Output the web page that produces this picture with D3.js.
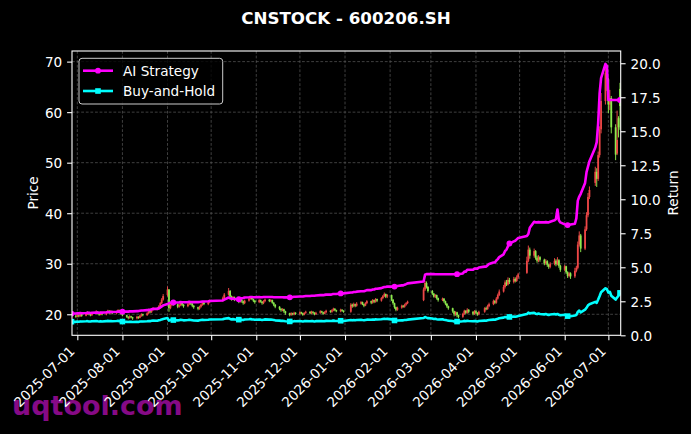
<!DOCTYPE html>
<html><head><meta charset="utf-8">
<script src="https://cdn.jsdelivr.net/npm/d3@7"></script>
<style>body{margin:0;background:#000;} svg{display:block;font-family:'DejaVu Sans',sans-serif;}</style>
</head><body><svg id="c" width="691" height="434"></svg>
<script>
// ---------------- DATA ----------------
const title = "CNSTOCK - 600206.SH";
const startDate = "2025-06-27", endDate = "2026-07-09";
const holidays = ["2025-10-01","2025-10-02","2025-10-03","2025-10-06","2025-10-07","2025-10-08",
  "2026-01-01","2026-01-02","2026-02-16","2026-02-17","2026-02-18","2026-02-19","2026-02-20","2026-02-23",
  "2026-04-06","2026-05-01","2026-05-04","2026-05-05","2026-06-19"];
const open = [19.9,19.7,19.5,19.8,19.6,20.0,19.7,20.1,20.4,20.0,19.8,20.2,20.5,20.2,19.9,20.3,20.0,20.4,20.7,20.3,20.6,20.2,20.5,20.8,20.4,20.1,19.8,19.5,19.3,19.6,19.4,19.2,19.5,19.3,19.7,20.0,19.8,20.2,20.6,20.4,20.9,21.2,21.0,21.6,22.2,22.9,23.8,24.9,21.2,21.9,22.5,22.0,21.5,21.8,22.3,21.9,21.6,22.0,22.4,22.1,21.7,21.4,21.1,21.5,21.9,22.3,22.0,22.4,22.7,23.2,23.9,24.6,23.5,23.0,23.4,22.9,22.5,22.9,22.6,22.2,22.7,23.1,23.4,23.0,22.7,22.4,22.8,22.5,22.2,22.6,22.9,22.6,22.8,22.3,21.9,21.5,21.1,20.8,21.0,20.6,20.2,19.9,20.2,20.0,20.3,20.1,20.4,20.2,19.9,20.3,20.5,20.2,20.5,20.3,20.0,20.3,20.6,20.4,20.1,20.4,20.7,20.5,20.8,21.1,20.8,20.6,20.9,20.7,20.5,21.9,21.6,22.0,21.7,22.1,22.4,22.0,21.7,22.2,22.6,22.3,22.8,22.5,23.0,22.7,23.2,23.6,24.0,23.5,23.8,22.9,22.2,21.4,20.9,21.3,21.7,21.5,21.9,22.2,22.8,24.9,26.2,25.4,24.6,24.1,23.5,23.8,23.2,22.8,23.1,22.6,22.1,21.6,21.2,20.6,20.0,20.4,19.8,19.5,20.1,20.7,20.3,20.9,20.5,20.1,20.6,20.3,20.0,20.5,21.2,21.0,21.6,22.0,22.6,22.3,23.1,23.8,24.5,25.4,26.3,25.9,26.8,26.4,27.0,26.6,27.3,28.2,30.6,32.8,31.6,32.5,31.2,30.6,31.3,30.8,30.1,30.5,29.8,29.4,30.0,30.6,29.9,30.7,29.6,28.8,29.5,28.3,27.6,28.1,27.5,28.6,29.2,33.8,35.6,33.0,36.8,39.6,43.2,46.0,48.2,46.8,51.5,56.6,62.2,67.8,66.5,61.5,62.8,57.0,51.8,58.8,64.6];
const high = [20.1,20.0,20.0,19.9,20.2,20.1,20.3,20.6,20.5,20.1,20.4,20.8,20.6,20.3,20.5,20.4,20.6,20.9,20.8,20.8,20.7,20.7,21.0,20.9,20.5,20.2,19.9,19.6,19.8,19.7,19.5,19.7,19.6,19.9,20.2,20.1,20.4,20.8,20.8,21.1,21.4,21.4,21.8,22.4,23.2,24.0,25.5,25.0,22.2,22.8,22.7,22.1,22.0,22.5,22.4,22.0,22.2,22.6,22.5,22.2,21.8,21.5,21.7,22.1,22.5,22.4,22.6,22.9,23.5,24.2,25.2,24.8,23.7,23.6,23.5,23.0,23.1,23.0,22.7,22.9,23.3,23.6,23.5,23.1,22.8,23.0,22.9,22.6,22.8,23.1,23.0,23.0,22.9,22.4,22.0,21.6,21.2,21.2,21.1,20.7,20.3,20.4,20.3,20.5,20.4,20.6,20.5,20.3,20.4,20.7,20.6,20.7,20.6,20.4,20.5,20.8,20.7,20.5,20.6,20.9,20.8,21.0,21.3,21.2,20.9,21.1,21.0,20.8,22.2,22.1,22.3,22.1,22.4,22.6,22.5,22.1,22.4,22.8,22.7,23.0,22.9,23.2,23.1,23.4,23.8,24.3,24.1,24.0,23.9,23.0,22.3,21.5,21.5,21.9,21.8,22.1,22.4,22.7,25.3,26.6,26.5,25.6,24.8,24.2,24.0,23.9,23.3,23.3,23.2,22.7,22.2,21.7,21.3,20.7,20.6,20.5,19.9,20.3,20.9,20.8,21.2,21.0,20.6,20.8,20.8,20.4,20.7,21.4,21.5,21.9,22.3,22.9,22.8,23.4,24.1,24.9,25.8,26.7,26.8,27.3,27.2,27.4,27.3,27.7,28.2,31.4,33.6,33.2,33.0,32.7,31.6,31.7,31.5,31.0,30.9,30.7,30.0,30.3,31.1,30.9,31.3,30.9,29.8,29.8,29.6,28.5,28.4,28.3,29.2,29.6,34.4,36.4,35.9,37.4,40.2,44.0,45.3,49.2,48.9,52.2,57.2,63.8,69.5,68.9,66.8,64.4,63.2,57.6,60.3,59.2,65.8];
const low = [19.4,19.3,19.4,19.4,19.5,19.5,19.6,19.9,19.8,19.6,19.7,20.0,20.0,19.7,19.8,19.8,19.8,20.2,20.1,20.1,20.0,20.0,20.3,20.2,19.9,19.6,19.3,19.0,19.1,19.2,18.9,19.0,19.1,19.2,19.5,19.6,19.7,20.0,20.2,20.3,20.7,20.8,20.9,21.4,22.0,22.7,23.5,20.5,21.0,21.6,21.7,21.2,21.3,21.6,21.6,21.3,21.4,21.8,21.8,21.4,21.1,20.8,20.9,21.3,21.7,21.8,21.8,22.2,22.5,23.0,23.7,23.2,22.7,22.8,22.6,22.2,22.3,22.3,21.9,22.0,22.5,22.9,22.8,22.4,22.1,22.2,22.3,21.9,22.0,22.4,22.4,22.4,22.1,21.6,21.2,20.8,20.5,20.6,20.3,19.9,19.6,19.7,19.8,19.8,19.9,19.9,20.0,19.7,19.8,20.1,20.0,20.0,20.1,19.8,19.9,20.1,20.2,19.9,20.0,20.2,20.3,20.3,20.6,20.6,20.4,20.4,20.5,20.3,20.3,21.3,21.4,21.4,21.5,21.9,21.8,21.4,21.6,22.0,22.0,22.1,22.2,22.3,22.4,22.5,23.0,23.4,23.2,23.2,22.6,21.9,21.1,20.6,20.7,21.1,21.3,21.3,21.7,22.0,22.6,24.6,25.1,24.3,23.8,23.3,23.2,22.9,22.5,22.6,22.3,21.8,21.3,20.9,20.3,19.6,19.7,19.4,19.2,19.3,19.9,20.0,20.1,20.2,19.8,19.9,20.0,19.7,19.8,20.3,20.8,20.9,21.4,21.8,22.0,22.1,22.9,23.6,24.3,25.1,25.6,25.7,26.0,26.1,26.3,26.4,27.0,28.0,30.3,31.0,31.2,30.8,30.2,30.3,30.4,29.7,29.8,29.4,29.0,29.1,29.7,29.5,29.7,29.2,28.4,28.5,28.0,27.2,27.3,27.0,27.2,28.3,28.9,33.4,32.3,32.7,36.5,39.2,42.8,45.4,45.2,46.4,51.0,55.8,61.5,64.2,59.8,60.4,55.8,50.5,51.5,55.0,56.5];
const close = [19.6,19.5,19.8,19.6,20.0,19.7,20.1,20.4,20.0,19.8,20.2,20.5,20.2,19.9,20.3,20.0,20.4,20.7,20.3,20.6,20.2,20.5,20.8,20.4,20.1,19.8,19.5,19.3,19.6,19.4,19.2,19.5,19.3,19.7,20.0,19.8,20.2,20.6,20.4,20.9,21.2,21.0,21.6,22.2,22.9,23.6,24.9,21.2,21.9,22.5,22.0,21.5,21.8,22.3,21.9,21.6,22.0,22.4,22.1,21.7,21.4,21.1,21.5,21.9,22.3,22.0,22.4,22.7,23.2,23.9,24.6,23.5,23.0,23.4,22.9,22.5,22.9,22.6,22.2,22.7,23.1,23.4,23.0,22.7,22.4,22.8,22.5,22.2,22.6,22.9,22.6,22.8,22.3,21.9,21.5,21.1,20.8,21.0,20.6,20.2,19.9,20.2,20.0,20.3,20.1,20.4,20.2,19.9,20.3,20.5,20.2,20.5,20.3,20.0,20.3,20.6,20.4,20.1,20.4,20.7,20.5,20.8,21.1,20.8,20.6,20.9,20.7,20.5,21.9,21.6,22.0,21.7,22.1,22.4,22.0,21.7,22.2,22.6,22.3,22.8,22.5,23.0,22.7,23.2,23.6,24.0,23.5,23.8,22.9,22.2,21.4,20.9,21.3,21.7,21.5,21.9,22.2,22.5,24.9,26.2,25.4,24.6,24.1,23.5,23.8,23.2,22.8,23.1,22.6,22.1,21.6,21.2,20.6,20.0,20.4,19.8,19.5,20.1,20.7,20.3,20.9,20.5,20.1,20.6,20.3,20.0,20.5,21.2,21.0,21.6,22.0,22.6,22.3,23.1,23.8,24.5,25.4,26.3,25.9,26.8,26.4,27.0,26.6,27.3,27.9,30.6,32.8,31.6,32.5,31.2,30.6,31.3,30.8,30.1,30.5,29.8,29.4,30.0,30.6,29.9,30.7,29.6,28.8,29.5,28.3,27.6,28.1,27.5,28.6,29.2,33.8,35.6,33.0,36.8,39.6,43.2,44.6,48.2,46.8,51.5,56.6,62.2,67.8,66.5,61.5,62.8,57.0,51.6,54.5,57.0,61.2];
const strategy = [1.60,1.60,1.61,1.61,1.63,1.62,1.64,1.66,1.65,1.64,1.66,1.68,1.67,1.66,1.68,1.67,1.69,1.71,1.70,1.72,1.71,1.73,1.75,1.74,1.74,1.74,1.74,1.74,1.76,1.76,1.76,1.78,1.78,1.80,1.82,1.82,1.85,1.88,1.87,1.91,1.94,1.94,1.99,2.04,2.12,2.20,2.30,2.36,2.40,2.42,2.41,2.41,2.42,2.44,2.43,2.43,2.44,2.46,2.45,2.44,2.44,2.44,2.45,2.47,2.49,2.48,2.50,2.52,2.56,2.62,2.78,2.72,2.68,2.70,2.67,2.65,2.70,2.72,2.74,2.78,2.80,2.82,2.81,2.80,2.80,2.81,2.80,2.80,2.81,2.82,2.82,2.82,2.81,2.80,2.80,2.80,2.80,2.80,2.79,2.79,2.79,2.81,2.81,2.83,2.83,2.85,2.85,2.85,2.87,2.89,2.89,2.91,2.91,2.91,2.93,2.95,2.95,2.95,2.97,2.99,2.99,3.01,3.04,3.04,3.04,3.08,3.08,3.08,3.15,3.15,3.18,3.18,3.21,3.24,3.24,3.24,3.28,3.32,3.32,3.37,3.37,3.42,3.42,3.47,3.51,3.55,3.55,3.58,3.58,3.58,3.58,3.58,3.62,3.67,3.67,3.72,3.76,3.82,3.95,4.45,4.50,4.50,4.50,4.50,4.49,4.49,4.49,4.49,4.49,4.49,4.49,4.49,4.49,4.49,4.49,4.49,4.49,4.55,4.68,4.68,4.82,4.82,4.82,4.90,4.90,4.90,4.98,5.05,5.05,5.15,5.25,5.35,5.35,5.50,5.60,5.75,5.95,6.20,6.30,6.55,6.75,6.90,6.95,7.05,7.15,7.30,7.45,7.90,8.35,8.30,8.30,8.32,8.30,8.30,8.32,8.30,8.30,8.35,8.45,8.55,9.25,8.45,8.30,8.15,8.10,8.10,8.12,8.15,8.20,8.60,9.90,10.20,10.40,11.20,12.00,12.40,12.80,13.80,14.20,15.60,17.80,18.90,19.95,19.80,17.30,17.30,17.30,17.30,17.30,17.30,17.30];
const buyHold = [1.00,0.99,1.01,1.00,1.02,1.01,1.03,1.04,1.02,1.01,1.03,1.05,1.03,1.02,1.04,1.02,1.04,1.06,1.04,1.05,1.03,1.05,1.06,1.04,1.03,1.01,0.99,0.98,1.00,0.99,0.98,0.99,0.98,1.01,1.02,1.01,1.03,1.05,1.04,1.07,1.08,1.07,1.10,1.13,1.17,1.20,1.27,1.08,1.12,1.15,1.12,1.10,1.11,1.14,1.12,1.10,1.12,1.14,1.13,1.11,1.09,1.08,1.10,1.12,1.14,1.12,1.14,1.16,1.18,1.22,1.26,1.20,1.17,1.19,1.17,1.15,1.17,1.15,1.13,1.16,1.18,1.19,1.17,1.16,1.14,1.16,1.15,1.13,1.15,1.17,1.15,1.16,1.14,1.12,1.10,1.08,1.06,1.07,1.05,1.03,1.02,1.03,1.02,1.04,1.03,1.04,1.03,1.02,1.04,1.05,1.03,1.05,1.04,1.02,1.04,1.05,1.04,1.03,1.04,1.06,1.05,1.06,1.08,1.06,1.05,1.07,1.06,1.05,1.12,1.10,1.12,1.11,1.13,1.14,1.12,1.11,1.13,1.15,1.14,1.16,1.15,1.17,1.16,1.18,1.20,1.22,1.20,1.21,1.17,1.13,1.09,1.07,1.09,1.11,1.10,1.12,1.13,1.15,1.27,1.34,1.30,1.26,1.23,1.20,1.21,1.18,1.16,1.18,1.15,1.13,1.10,1.08,1.05,1.02,1.04,1.01,0.99,1.03,1.06,1.04,1.07,1.05,1.03,1.05,1.04,1.02,1.05,1.08,1.07,1.10,1.12,1.15,1.14,1.18,1.21,1.25,1.30,1.34,1.32,1.37,1.35,1.38,1.36,1.39,1.42,1.56,1.67,1.61,1.66,1.59,1.56,1.60,1.57,1.54,1.56,1.52,1.50,1.53,1.56,1.53,1.57,1.51,1.47,1.51,1.44,1.41,1.43,1.40,1.46,1.49,1.72,1.82,1.68,1.88,2.02,2.20,2.28,2.46,2.39,2.63,2.89,3.17,3.46,3.39,3.14,3.20,2.91,2.63,2.78,2.91,3.12];
const priceTicks = [20,30,40,50,60,70];
const returnTicks = [0,2.5,5,7.5,10,12.5,15,17.5,20];
const monthTicks = ["2025-07-01","2025-08-01","2025-09-01","2025-10-01","2025-11-01","2025-12-01","2026-01-01","2026-02-01","2026-03-01","2026-04-01","2026-05-01","2026-06-01","2026-07-01"];
const seriesNames = ["AI Strategy","Buy-and-Hold"];
const markEvery = 25;

// ---------------- LAYOUT ----------------
const L = 72, R = 620.7, T = 51, B = 335.3;
const FS = 13.6;
const svg = d3.select("#c");
svg.append("rect").attr("width",691).attr("height",434).attr("fill","#000");

const parse = d3.utcParse("%Y-%m-%d"), fmt = d3.utcFormat("%Y-%m-%d");
const hol = new Set(holidays);
const dates = [];
for (let d = parse(startDate); d <= parse(endDate); d = d3.utcDay.offset(d,1)) {
  const wd = d.getUTCDay();
  if (wd === 0 || wd === 6 || hol.has(fmt(d))) continue;
  dates.push(d);
}
const n = Math.min(dates.length, close.length);
const rows = d3.range(n).map(i => ({d:dates[i], o:open[i], h:high[i], l:low[i], c:close[i], s:strategy[i], b:buyHold[i]}));

const x = d3.scaleUtc().domain([dates[0], dates[n-1]]).range([71.5, 620]);
const yP = d3.scaleLinear().domain([15.84, 72.1]).range([B, T]);
const yR = d3.scaleLinear().domain([0, 20.9]).range([B, T]);

// watermark (behind everything)
svg.append("text").attr("x",12).attr("y",415).attr("font-size",27).attr("font-weight","bold")
  .attr("fill","#860a86").text("uqtool.com");

// title
svg.append("text").attr("x",346).attr("y",24).attr("text-anchor","middle").attr("font-size",16.7)
  .attr("font-weight","bold").attr("fill","#fff").text(title);

svg.append("defs").append("clipPath").attr("id","clip").append("rect")
  .attr("x",L).attr("y",T).attr("width",R-L).attr("height",B-T);

// grid
const grid = svg.append("g").attr("stroke","#5a5a5a").attr("stroke-width",0.7).attr("stroke-dasharray","2.8,1.8");
grid.selectAll("line.v").data(monthTicks).join("line").attr("class","v")
  .attr("x1",d=>x(parse(d))).attr("x2",d=>x(parse(d))).attr("y1",T).attr("y2",B);
grid.selectAll("line.h").data(priceTicks).join("line").attr("class","h")
  .attr("x1",L).attr("x2",R).attr("y1",d=>yP(d)).attr("y2",d=>yP(d));

const plot = svg.append("g").attr("clip-path","url(#clip)");

// candles
const up = "#f04848", dn = "#8eec4e";
const cg = plot.append("g");
cg.selectAll("line").data(rows).join("line")
  .attr("x1",d=>x(d.d)).attr("x2",d=>x(d.d)).attr("y1",d=>yP(d.h)).attr("y2",d=>yP(d.l))
  .attr("stroke",d=>d.c>=d.o?up:dn).attr("stroke-width",1).attr("stroke-opacity",0.95);
cg.selectAll("rect").data(rows).join("rect")
  .attr("x",d=>x(d.d)-0.9).attr("width",1.8)
  .attr("y",d=>yP(Math.max(d.o,d.c))).attr("height",d=>Math.max(0.8,Math.abs(yP(d.o)-yP(d.c))))
  .attr("fill",d=>d.c>=d.o?up:dn).attr("fill-opacity",0.95);

// lines
const lineS = d3.line().x(d=>x(d.d)).y(d=>yR(d.s));
const lineB = d3.line().x(d=>x(d.d)).y(d=>yR(d.b));
plot.append("path").datum(rows).attr("d",lineB).attr("fill","none").attr("stroke","#00ffff")
  .attr("stroke-width",2.6).attr("stroke-linejoin","round");
plot.append("path").datum(rows).attr("d",lineS).attr("fill","none").attr("stroke","#ff00ff")
  .attr("stroke-width",2.6).attr("stroke-linejoin","round");
const marks = rows.filter((d,i)=>i%markEvery===0);
plot.selectAll("rect.mb").data(marks).join("rect").attr("class","mb")
  .attr("x",d=>x(d.d)-2.8).attr("y",d=>yR(d.b)-2.8).attr("width",5.6).attr("height",5.6).attr("fill","#00ffff");
plot.selectAll("circle.ms").data(marks).join("circle").attr("class","ms")
  .attr("cx",d=>x(d.d)).attr("cy",d=>yR(d.s)).attr("r",2.9).attr("fill","#ff00ff");

// spines
svg.append("rect").attr("x",L).attr("y",T).attr("width",R-L).attr("height",B-T)
  .attr("fill","none").attr("stroke","#fff").attr("stroke-width",1.1);

// axes
function styleAxis(g){
  g.select(".domain").remove();
  g.selectAll(".tick line").attr("stroke","#fff").attr("stroke-width",1.1);
  g.selectAll(".tick text").attr("fill","#fff").attr("font-size",FS).attr("font-family","'DejaVu Sans',sans-serif");
}
const ax = svg.append("g").attr("transform",`translate(0,${B})`)
  .call(d3.axisBottom(x).tickValues(monthTicks.map(parse)).tickFormat(fmt).tickSize(4.9));
styleAxis(ax);
ax.selectAll(".tick text").attr("text-anchor","end").attr("x",0).attr("y",0).attr("dy",0)
  .attr("transform","translate(-2.1,16.8) rotate(-45)");

const ayL = svg.append("g").attr("transform",`translate(${L},0)`)
  .call(d3.axisLeft(yP).tickValues(priceTicks).tickFormat(d3.format("d")).tickSize(4.9).tickPadding(4.9));
styleAxis(ayL);
ayL.selectAll(".tick text").attr("dy","0.36em");

const ayR = svg.append("g").attr("transform",`translate(${R},0)`)
  .call(d3.axisRight(yR).tickValues(returnTicks).tickFormat(d3.format(".1f")).tickSize(4.9).tickPadding(4.9));
styleAxis(ayR);
ayR.selectAll(".tick text").attr("dy","0.36em");

// axis labels
svg.append("text").attr("transform","translate(37.5,193) rotate(-90)").attr("text-anchor","middle")
  .attr("font-size",FS).attr("fill","#fff").text("Price");
svg.append("text").attr("transform","translate(678,193) rotate(-90)").attr("text-anchor","middle")
  .attr("font-size",FS).attr("fill","#fff").text("Return");

// legend
const lg = svg.append("g");
lg.append("rect").attr("x",79).attr("y",58.3).attr("width",143.7).attr("height",45.7).attr("rx",3)
  .attr("fill","#000").attr("fill-opacity",0.8).attr("stroke","#cccccc").attr("stroke-width",1);
const legItems = [{name:seriesNames[0], color:"#ff00ff", y:70.7, shape:"circle"},
                  {name:seriesNames[1], color:"#00ffff", y:91, shape:"square"}];
legItems.forEach(it=>{
  lg.append("line").attr("x1",83).attr("x2",113).attr("y1",it.y).attr("y2",it.y)
    .attr("stroke",it.color).attr("stroke-width",2.6);
  if (it.shape==="circle") lg.append("circle").attr("cx",98).attr("cy",it.y).attr("r",2.9).attr("fill",it.color);
  else lg.append("rect").attr("x",95.2).attr("y",it.y-2.8).attr("width",5.6).attr("height",5.6).attr("fill",it.color);
  lg.append("text").attr("x",123).attr("y",it.y+5).attr("font-size",FS).attr("fill","#fff").text(it.name);
});
</script></body></html>
